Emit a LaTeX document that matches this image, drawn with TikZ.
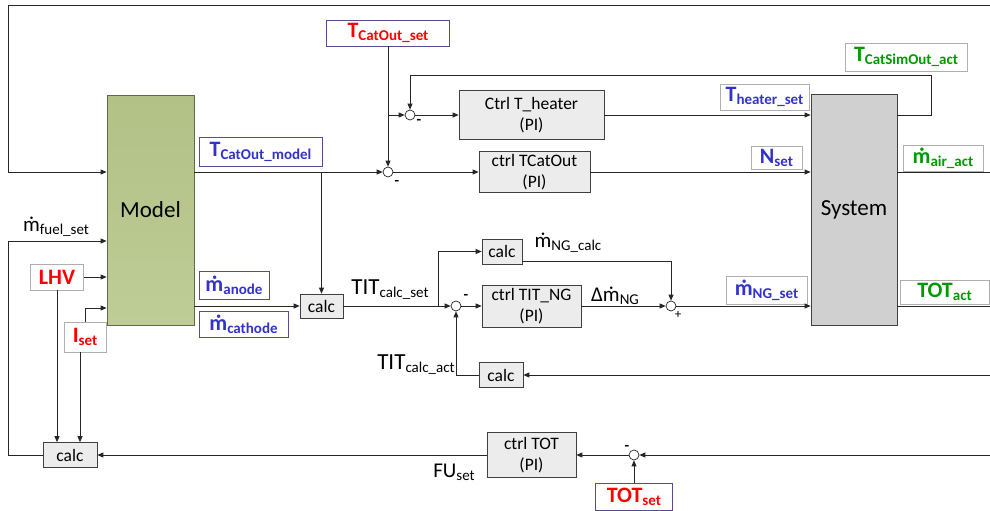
\documentclass[tikz,border=0pt]{standalone}
\usepackage{fontspec}
\setmainfont{Carlito}
\usetikzlibrary{arrows.meta,calc}
\definecolor{lblue}{RGB}{51,51,204}
\definecolor{lred}{RGB}{255,0,0}
\definecolor{lgreen}{RGB}{0,153,0}
\definecolor{modeltop}{RGB}{178,193,134}
\definecolor{modelbot}{RGB}{190,204,150}
\definecolor{modeldraw}{RGB}{95,105,75}
\definecolor{sysfill}{RGB}{208,208,208}
\definecolor{boxfill}{RGB}{236,236,236}
\definecolor{purp}{RGB}{90,75,140}
\definecolor{lgray}{RGB}{175,175,175}
\newcommand\mdt{\leavevmode\iffontchar\font"1E41 \char"1E41\relax\else\ooalign{m\cr\kern0.1em\raisebox{0.5em}{.}\hfil\cr}\fi}
\newcommand\sub[1]{\raisebox{-3pt}{\fontsize{15}{15}\selectfont #1}}
\newcommand\fL{\fontsize{22}{22}\selectfont}
\newcommand\fM{\fontsize{21}{21}\selectfont}
\tikzset{
  ln/.style={line width=0.8pt, draw=black!85},
  arr/.style={ln, -{Triangle[length=6pt,width=5pt]}},
  blk/.style={draw=black!75, fill=boxfill, line width=0.7pt, inner sep=0pt, align=center,
              font=\fontsize{17.5}{21}\selectfont},
  sumn/.style={circle, draw=black!85, fill=white, line width=0.7pt, minimum size=10pt, inner sep=0pt},
  lab/.style={draw=lgray, fill=white, line width=0.8pt, inner sep=0pt, font=\bfseries\fL},
  plab/.style={lab, draw=purp},
  sgn/.style={inner sep=0pt, font=\bfseries\fontsize{15}{15}\selectfont},
  free/.style={inner sep=0pt, font=\fM},
}
\begin{document}
\begin{tikzpicture}[x=1pt,y=-1pt]
\useasboundingbox (0,0) rectangle (990,511);
% main blocks
\node[draw=modeldraw, line width=0.8pt, top color=modeltop, bottom color=modelbot,
      minimum width=87pt, minimum height=230pt, inner sep=0pt,
      font=\fontsize{23}{23}\selectfont] (model) at (150.5,210) {Model};
\node[draw=black!75, line width=0.8pt, fill=sysfill, minimum width=86pt, minimum height=231pt,
      inner sep=0pt, font=\fontsize{23}{23}\selectfont] (sys) at (854,209.5) {System};
% controllers and calc blocks
\node[blk, minimum width=145pt, minimum height=49pt] (heat) at (531.5,115) {Ctrl T\_heater\\(PI)};
\node[blk, minimum width=111pt, minimum height=41pt] (tco) at (534.5,172) {ctrl TCatOut\\(PI)};
\node[blk, minimum width=99pt, minimum height=42pt] (tit) at (531.5,306) {ctrl TIT\_NG\\(PI)};
\node[blk, minimum width=89pt, minimum height=45pt] (ctot) at (531.5,455) {ctrl TOT\\(PI)};
\node[blk, minimum width=43pt, minimum height=24pt] (calc1) at (321.5,306) {calc};
\node[blk, minimum width=40pt, minimum height=25pt] (calc2) at (502,251.5) {calc};
\node[blk, minimum width=44pt, minimum height=25pt] (calc3) at (501,375) {calc};
\node[blk, minimum width=54pt, minimum height=25pt] (calc4) at (70,455) {calc};
% summing points
\node[sumn] (s1) at (410,115) {};
\node[sumn] (s2) at (388,172) {};
\node[sumn] (s3) at (456,306) {};
\node[sumn] (s4) at (671,306) {};
\node[sumn] (s5) at (634,455) {};
\node[sgn] (m1) at (419,122) {-};
\node[sgn] (m2) at (397,183) {-};
\node[sgn] (m3) at (466,297) {-};
\node[inner sep=0pt, font=\fontsize{13}{13}\selectfont] (p4) at (678,315) {+};
\node[sgn] (m5) at (627,448) {-};
% label boxes
\node[plab, minimum width=123pt, minimum height=26pt] (tset) at (388,33) {\color{lred}T\sub{CatOut\_set}};
\node[plab, minimum width=123pt, minimum height=29pt] (ltcm) at (260.5,151.5) {\color{lblue}T\sub{CatOut\_model}};
\node[plab, minimum width=70pt, minimum height=28pt] (lan) at (234,285) {\color{lblue}\mdt\sub{anode}};
\node[plab, minimum width=89pt, minimum height=26pt] (lca) at (243.5,324) {\color{lblue}\mdt\sub{cathode}};
\node[plab, minimum width=77pt, minimum height=27pt] (totset) at (634,496.5) {\color{lred}TOT\sub{set}};
\node[lab, minimum width=53pt, minimum height=26pt] (lhv) at (57,277) {\color{lred}LHV};
\node[lab, minimum width=42pt, minimum height=30pt] (iset) at (85,337) {\color{lred}I\sub{set}};
\node[lab, minimum width=122pt, minimum height=28pt] (lsim) at (906,57) {\color{lgreen}T\sub{CatSimOut\_act}};
\node[lab, minimum width=89pt, minimum height=26pt] (lhs) at (764.5,97) {\color{lblue}T\sub{heater\_set}};
\node[lab, minimum width=51pt, minimum height=23pt] (lns) at (776.5,157.5) {\color{lblue}N\sub{set}};
\node[lab, minimum width=80pt, minimum height=26pt] (lair) at (943,158) {\color{lgreen}\mdt\sub{air\_act}};
\node[lab, minimum width=81pt, minimum height=28pt] (lngs) at (766.5,290) {\color{lblue}\mdt\sub{NG\_set}};
\node[lab, minimum width=89pt, minimum height=24pt] (ltot) at (944.5,292) {\color{lgreen}TOT\sub{act}};
% free labels
\node[free] (lfuel) at (56,227) {\mdt\sub{fuel\_set}};
\node[free, font=\fontsize{23}{23}\selectfont] (ltit) at (390,290) {TIT\sub{calc\_set}};
\node[free] (lngc) at (568,243) {\mdt\sub{NG\_calc}};
\node[free] (ldng) at (615,296) {Δ\mdt\sub{NG}};
\node[free, font=\fontsize{23}{23}\selectfont] (ltita) at (416,365) {TIT\sub{calc\_act}};
\node[free] (lfu) at (454,472) {FU\sub{set}};
% helper coordinates
\coordinate (yA) at (0,172);
\coordinate (yH) at (0,115);
\coordinate (yI) at (0,308);
\coordinate (yC2) at (0,261);
\coordinate (eTop) at (990,5);
\coordinate (tl) at (8,5);
\coordinate (fl) at (8,241);
\coordinate (fb) at (931,75);
\coordinate (br) at (438,306);
\coordinate (eA) at (990,172);
\coordinate (eM) at (990,306);
\coordinate (eB) at (990,375);
\coordinate (eT) at (990,455);
\coordinate (isb) at ($(iset.south)+(-5,0)$);
% connectors
\draw[arr] (eTop) -- (tl) |- (model.west |- yA);
\draw[arr] (model.east |- yA) -- (s2.west);
\draw[arr] (calc1.north |- yA) -- (calc1.north);
\draw[arr] (tset.south) -- (s2.north);
\draw[arr] (tset.south |- s1) -- (s1.west);
\draw[arr] (s1.east) -- (heat.west);
\draw[arr] (heat.east) -- (sys.west |- heat.east);
\draw[arr] (sys.east |- yH) -| (fb) -| (s1.north);
\draw[arr] (s2.east) -- (tco.west);
\draw[arr] (tco.east) -- (sys.west |- tco.east);
\draw[ln] (sys.east |- yA) -- (eA);
\draw[arr] (model.east |- calc1) -- (calc1.west);
\draw[arr] (calc1.east) -- (s3.west);
\draw[arr] (br) |- (calc2.west);
\draw[arr] (s3.east) -- (tit.west);
\draw[arr] (tit.east) -- (s4.west);
\draw[arr] (s4.east) -- (sys.west |- s4);
\draw[arr] (calc2.east |- yC2) -| (s4.north);
\draw[ln] (sys.east |- s4) -- (eM);
\draw[arr] (eB) -- (calc3.east);
\draw[arr] (calc3.west) -| (s3.south);
\draw[arr] (eT) -- (s5.east);
\draw[arr] (s5.west) -- (ctot.east);
\draw[arr] (ctot.west) -- (calc4.east);
\draw[arr] (totset.north) -- (s5.south);
\draw[arr] (calc4.west) -| (fl) -- (model.west |- fl);
\draw[arr] (lhv.east) -- (model.west |- lhv.east);
\draw[arr] (lhv.south) -- (calc4.north -| lhv.south);
\draw[arr] (iset.north) |- (model.west |- yI);
\draw[arr] (isb) -- (calc4.north -| isb);
\end{tikzpicture}
\end{document}
